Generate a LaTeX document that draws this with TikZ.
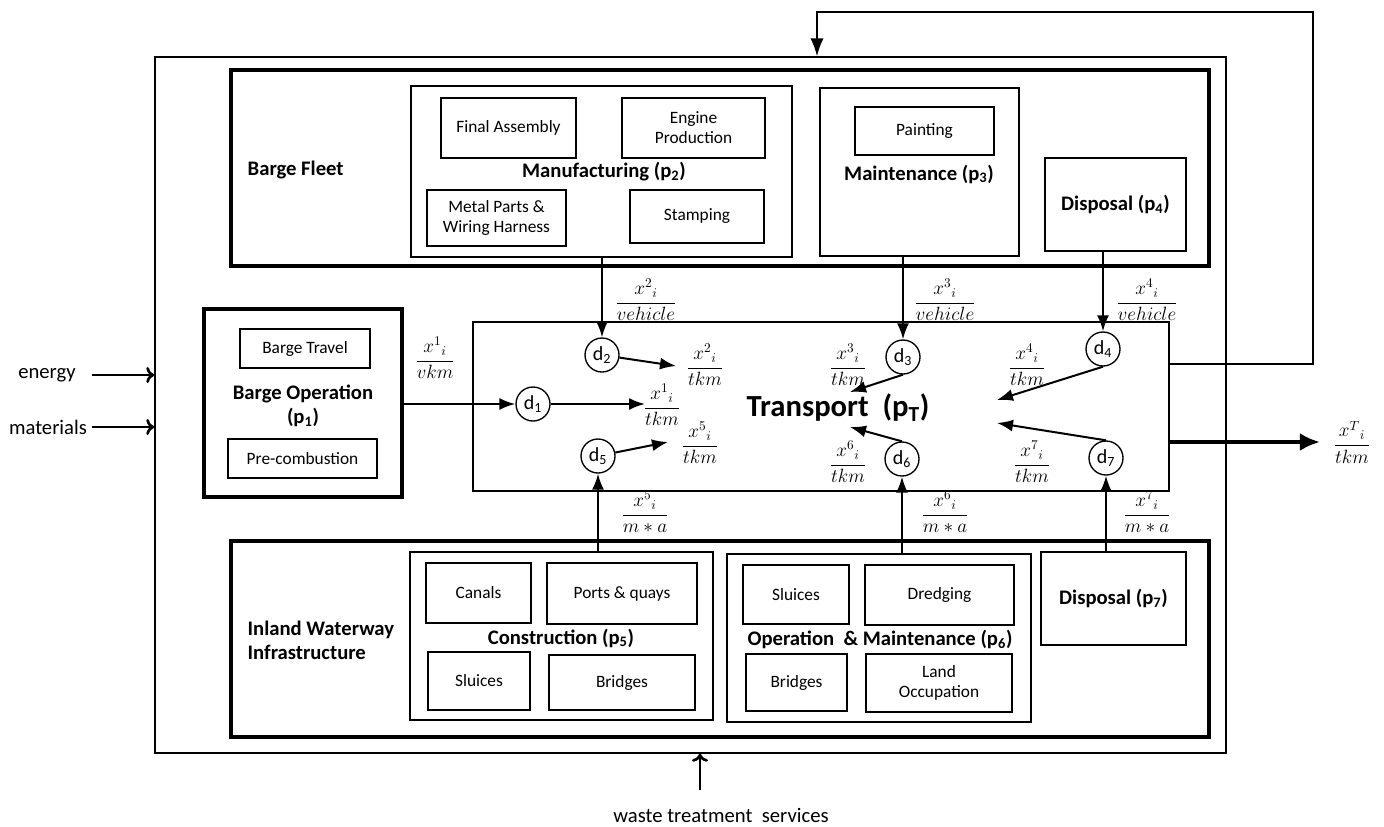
\documentclass[tikz,border=0pt]{standalone}
\usepackage{amsmath}
\usepackage{fontspec}
\setmainfont{Carlito}
\usepackage{tikz}
\usetikzlibrary{arrows.meta}
\newlength\pxu
\setlength\pxu{0.75pt}

\begin{document}
\begin{tikzpicture}[x=0.75pt,y=-0.75pt,
  font=\fontsize{13}{15}\selectfont,
  frame/.style={draw,line width=1.1pt,inner sep=0pt},
  group/.style={draw,line width=2.5pt,inner sep=0pt},
  unit/.style={draw,line width=1.5pt,inner sep=0pt,align=center},
  sub/.style={draw,line width=0.9pt,inner sep=0pt,align=center},
  head/.style={font=\fontsize{15.5}{18}\selectfont\bfseries,align=center},
  dnode/.style={circle,draw,line width=1pt,minimum size=34\pxu,inner sep=0pt,font=\fontsize{15}{17}\selectfont},
  rate/.style={inner sep=1pt,font=\fontsize{14}{16}\selectfont},
  flow/.style={line width=1.5pt,-{Latex[length=12pt,width=9pt]}},
  inflow/.style={line width=2pt,-{To[length=6pt,width=12pt,line width=2pt]}}]
\useasboundingbox (0,0) rectangle (1384,826);

% system boundary
\node[frame,minimum width=1071\pxu,minimum height=696\pxu] (sys) at (690.5,405) {};

% barge fleet
\node[group,minimum width=978\pxu,minimum height=196\pxu] (fleet) at (720,168) {};
\node[head,anchor=west] (fleetlbl) at (243,170) {Barge Fleet};
\node[unit,minimum width=381\pxu,minimum height=171\pxu] (mfg) at (601.5,171.5) {};
\node[sub,minimum width=135\pxu,minimum height=60\pxu] (fa) at (508.5,128) {Final Assembly};
\node[sub,minimum width=143\pxu,minimum height=60\pxu] (ep) at (693.5,128) {Engine\\Production};
\node[head] (mfglbl) at (604,172) {Manufacturing (p\textsubscript{2})};
\node[sub,minimum width=139\pxu,minimum height=56\pxu] (mp) at (496.5,218) {Metal Parts \&\\Wiring Harness};
\node[sub,minimum width=134\pxu,minimum height=53\pxu] (st) at (697,216.5) {Stamping};
\node[unit,minimum width=199\pxu,minimum height=168\pxu] (mnt) at (919.5,172) {};
\node[sub,minimum width=139\pxu,minimum height=48\pxu] (pnt) at (924.5,131) {Painting};
\node[head] (mntlbl) at (919,174) {Maintenance (p\textsubscript{3})};
\node[unit,head,minimum width=141\pxu,minimum height=93\pxu] (dsp4) at (1115.5,204.5) {Disposal (p\textsubscript{4})};

% barge operation
\node[group,minimum width=198\pxu,minimum height=188\pxu] (bop) at (303,403) {};
\node[sub,minimum width=130\pxu,minimum height=39\pxu] (bt) at (305,348.5) {Barge Travel};
\node[head,text depth=0pt] (boplbl) at (303,404) {Barge Operation\\(p\textsubscript{1})};
\node[sub,minimum width=149\pxu,minimum height=39\pxu] (pc) at (302.5,458.5) {Pre-combustion};

% transport
\node[unit,minimum width=696\pxu,minimum height=169\pxu] (trn) at (821,406.5) {};
\node[head,font=\fontsize{23}{26}\selectfont\bfseries] (trnlbl) at (838,408) {Transport~~(p\textsubscript{T})};
\node[dnode] (d1) at (533,404) {d\textsubscript{1}};
\node[dnode] (d2) at (602,355) {d\textsubscript{2}};
\node[dnode] (d3) at (903,357) {d\textsubscript{3}};
\node[dnode] (d4) at (1103,349) {d\textsubscript{4}};
\node[dnode] (d5) at (598,456) {d\textsubscript{5}};
\node[dnode] (d6) at (902,459) {d\textsubscript{6}};
\node[dnode] (d7) at (1106,458) {d\textsubscript{7}};

% infrastructure
\node[group,minimum width=978\pxu,minimum height=196\pxu] (infra) at (720,639) {};
\node[head,anchor=west,align=left] (infralbl) at (243,640) {Inland Waterway\\Infrastructure};
\node[unit,minimum width=303\pxu,minimum height=168\pxu] (con) at (561.5,636) {};
\node[sub,minimum width=105\pxu,minimum height=60\pxu] (canals) at (478.5,593) {Canals};
\node[sub,minimum width=150\pxu,minimum height=61\pxu] (ports) at (622,593.5) {Ports \& quays};
\node[head] (conlbl) at (561,638) {Construction (p\textsubscript{5})};
\node[sub,minimum width=102\pxu,minimum height=58\pxu] (sl5) at (479,681) {Sluices};
\node[sub,minimum width=146\pxu,minimum height=55\pxu] (br5) at (622,682.5) {Bridges};
\node[unit,minimum width=304\pxu,minimum height=168\pxu] (om) at (879,638) {};
\node[sub,minimum width=106\pxu,minimum height=59\pxu] (sl6) at (796,594.5) {Sluices};
\node[sub,minimum width=149\pxu,minimum height=60\pxu] (dr) at (939.5,595) {Dredging};
\node[head] (omlbl) at (880,639) {Operation~~\&~Maintenance (p\textsubscript{6})};
\node[sub,minimum width=101\pxu,minimum height=57\pxu] (br6) at (796.5,682.5) {Bridges};
\node[sub,minimum width=146\pxu,minimum height=58\pxu] (lo) at (939,683) {Land\\Occupation};
\node[unit,head,minimum width=145\pxu,minimum height=93\pxu] (dsp7) at (1113.5,598.5) {Disposal (p\textsubscript{7})};

% flow labels
\node[rate] (f1v) at (435,358) {$\dfrac{{x^{1}}_{i}}{vkm}$};
\node[rate] (f2v) at (646,300) {$\dfrac{{x^{2}}_{i}}{vehicle}$};
\node[rate] (f3v) at (945,300) {$\dfrac{{x^{3}}_{i}}{vehicle}$};
\node[rate] (f4v) at (1147,300) {$\dfrac{{x^{4}}_{i}}{vehicle}$};
\node[rate] (f5m) at (645,512) {$\dfrac{{x^{5}}_{i}}{m*a}$};
\node[rate] (f6m) at (945,512) {$\dfrac{{x^{6}}_{i}}{m*a}$};
\node[rate] (f7m) at (1147,512) {$\dfrac{{x^{7}}_{i}}{m*a}$};
\node[rate] (f1t) at (662,405) {$\dfrac{{x^{1}}_{i}}{tkm}$};
\node[rate] (f2t) at (705,365) {$\dfrac{{x^{2}}_{i}}{tkm}$};
\node[rate] (f3t) at (848,365) {$\dfrac{{x^{3}}_{i}}{tkm}$};
\node[rate] (f4t) at (1027,365) {$\dfrac{{x^{4}}_{i}}{tkm}$};
\node[rate] (f5t) at (700,443) {$\dfrac{{x^{5}}_{i}}{tkm}$};
\node[rate] (f6t) at (848,462) {$\dfrac{{x^{6}}_{i}}{tkm}$};
\node[rate] (f7t) at (1032,462) {$\dfrac{{x^{7}}_{i}}{tkm}$};
\node[rate] (fout) at (1352,442) {$\dfrac{{x^{T}}_{i}}{tkm}$};

% arrow tips inside transport
\coordinate (t1) at (645,404);
\coordinate (t2) at (676,366);
\coordinate (t3) at (850,392);
\coordinate (t4) at (997,400);
\coordinate (t5) at (668,442);
\coordinate (t6) at (850,427);
\coordinate (t7) at (997,423);

% flows into d nodes
\draw[flow] (bop.east |- d1) -- (d1);
\draw[flow] (d2 |- mfg.south) -- (d2);
\draw[flow] (d3 |- mnt.south) -- (d3);
\draw[flow] (d4 |- dsp4.south) -- (d4);
\draw[flow] (d5 |- con.north) -- (d5);
\draw[flow] (d6 |- om.north) -- (d6);
\draw[flow] (d7 |- dsp7.north) -- (d7);

% flows into transport
\draw[flow] (d1) -- (t1);
\draw[flow] (d2) -- (t2);
\draw[flow] (d3.south) -- (t3);
\draw[flow] (d4.south) -- (t4);
\draw[flow] (d5) -- (t5);
\draw[flow] (d6.north) -- (t6);
\draw[flow] (d7.north) -- (t7);

% output and feedback
\draw[line width=3pt,-{Latex[length=15pt,width=13.5pt]}] (trn.east |- fout) -- ([xshift=-9pt]fout.west);
\coordinate (fbr) at (1313,364);
\coordinate (fbtop) at (817,12);
\draw[line width=1.3pt,-{Latex[length=13.5pt,width=10pt]}] (trn.east |- fbr) -- (fbr) |- (fbtop) -- (fbtop |- sys.north);

% inputs
\node (en) at (47,375) {\fontsize{15.5}{18}\selectfont energy};
\node (mat) at (48,427) {\fontsize{15.5}{18}\selectfont materials};
\node (ws) at (721,815) {\fontsize{15.5}{18}\selectfont waste treatment~~services};
\draw[inflow] ([xshift=9pt]en.east) -- (en -| sys.west);
\draw[inflow] (mat.east) -- (mat -| sys.west);
\coordinate (wsin) at (700,790);
\draw[inflow] (wsin) -- (wsin |- sys.south);
\end{tikzpicture}
\end{document}
